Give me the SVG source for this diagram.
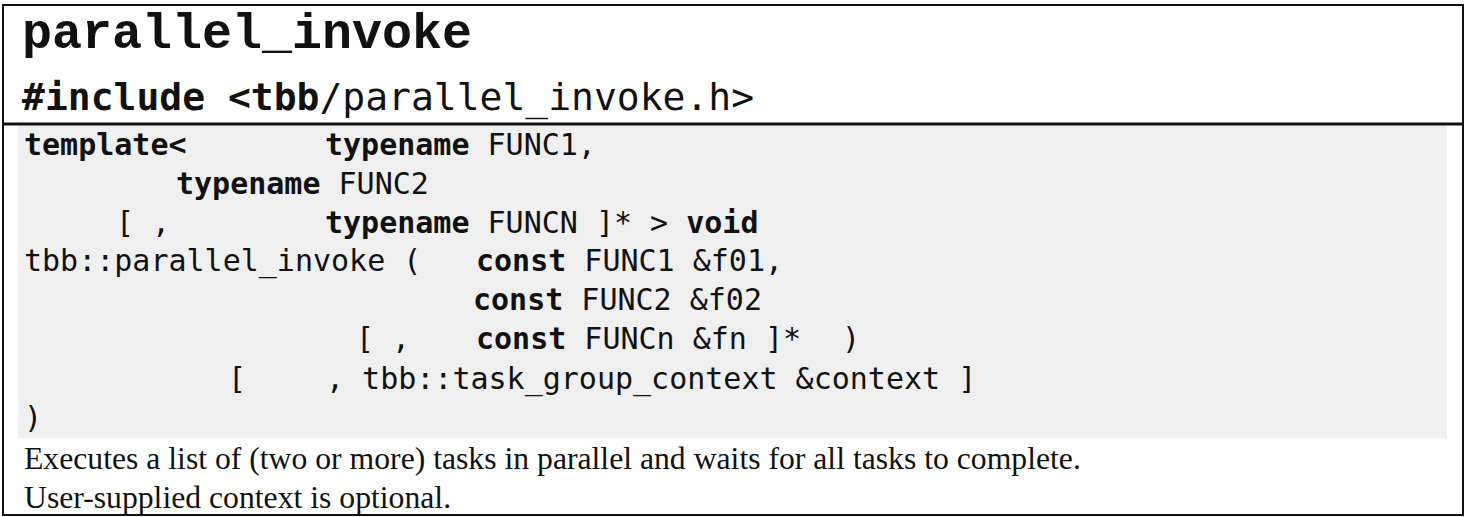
<svg xmlns="http://www.w3.org/2000/svg" width="1467" height="517" viewBox="0 0 1467 517">
<style>
.mono{font-family:"DejaVu Sans Mono","Liberation Mono",monospace;font-size:30px;fill:#111}
.b{font-weight:bold}
.inc{font-family:"DejaVu Sans Mono","Liberation Mono",monospace;font-size:38px;fill:#111}
.title{font-family:"Liberation Mono","Courier New",monospace;font-size:50px;font-weight:bold;fill:#111}
.desc{font-family:"Liberation Serif","Times New Roman",serif;font-size:31.7px;fill:#111}
</style>
<rect x="0" y="0" width="1467" height="517" fill="#fff"/>
<g id="header">
<text class="title" x="22" y="48">parallel_invoke</text>
<text class="inc" x="22" y="110"><tspan class="b">#include &lt;tbb</tspan>/parallel_invoke.h&gt;</text>
</g>
<g id="code">
<rect x="18" y="126" width="1429" height="312" fill="#efefef"/>
<text class="mono" y="155"><tspan class="b" x="24">template&lt;</tspan><tspan class="b" x="325">typename</tspan> FUNC1,</text>
<text class="mono" y="194"><tspan class="b" x="176">typename</tspan> FUNC2</text>
<text class="mono" y="233"><tspan x="116">[ ,</tspan><tspan class="b" x="325">typename</tspan> FUNCN ]* &gt; <tspan class="b">void</tspan></text>
<text class="mono" y="271"><tspan x="24">tbb::parallel_invoke (</tspan><tspan class="b" x="476">const</tspan> FUNC1 &amp;f01,</text>
<text class="mono" y="310"><tspan class="b" x="473">const</tspan> FUNC2 &amp;f02</text>
<text class="mono" y="349"><tspan x="356">[ ,</tspan><tspan class="b" x="476">const</tspan> FUNCn &amp;fn ]*<tspan x="842">)</tspan></text>
<text class="mono" y="389"><tspan x="228">[</tspan><tspan x="326">, tbb::task_group_context &amp;context ]</tspan></text>
<text class="mono" y="428"><tspan x="24">)</tspan></text>
</g>
<g id="description">
<text class="desc" x="24" y="469">Executes a list of (two or more) tasks in parallel and waits for all tasks to complete.</text>
<text class="desc" x="24" y="508">User-supplied context is optional.</text>
</g>
<g id="frame" fill="none" stroke="#111">
<rect x="3" y="5" width="1460" height="510" stroke-width="2"/>
<line x1="3" y1="124" x2="1463" y2="124" stroke-width="3"/>
</g>
</svg>
